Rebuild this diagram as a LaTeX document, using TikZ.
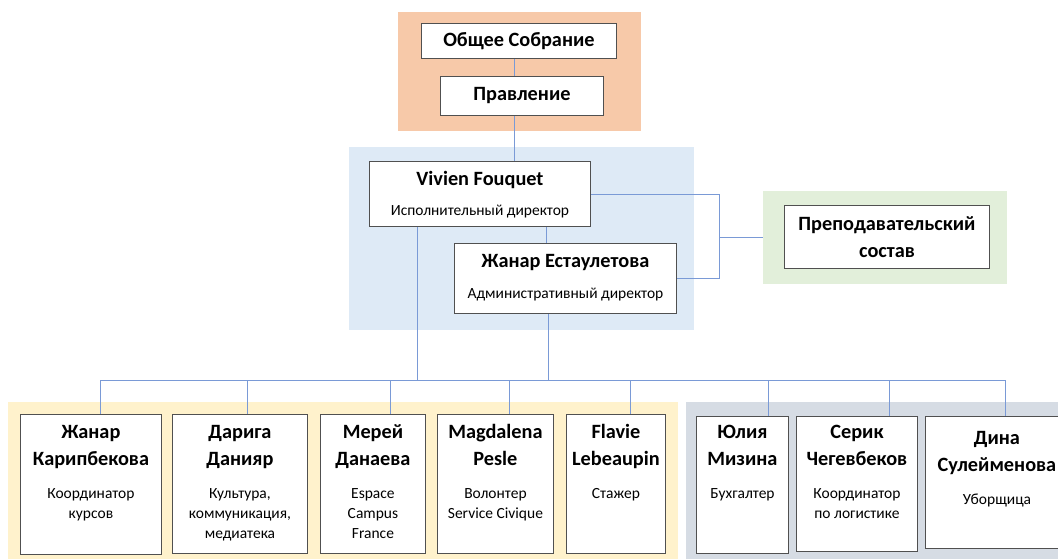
\documentclass[tikz,border=0pt]{standalone}
\usepackage{fontspec}
\setmainfont{Carlito}
\definecolor{orangebg}{HTML}{F7C9A9}
\definecolor{bluebg}{HTML}{DEEAF6}
\definecolor{greenbg}{HTML}{E2EFDA}
\definecolor{yellowbg}{HTML}{FFF2CC}
\definecolor{graybg}{HTML}{D6DCE4}
\definecolor{linkc}{HTML}{7A9AD6}
\definecolor{boxline}{HTML}{505050}
\newcommand{\tfont}{\fontsize{20.3}{27}\selectfont\bfseries}
\newcommand{\sfont}{\fontsize{15.5}{20}\selectfont}
% width, height, top space, gap, name, subtitle
\newcommand{\orgcell}[6]{\parbox[c][#2][t]{#1}{\centering\vspace*{#3}%
{\tfont\strut #5\par}\vspace{#4}{\sfont #6\par}}}
\begin{document}
\begin{tikzpicture}[x=1pt,y=-1pt,
  bgbox/.style={draw=none, inner sep=0pt, anchor=north west},
  box/.style={draw=boxline, fill=white, line width=0.9pt, inner sep=0pt, anchor=north west},
  link/.style={draw=linkc, line width=0.9pt}]
\useasboundingbox (0,0) rectangle (1058,558);
\clip (0,0) rectangle (1058,558);
\fill[white] (0,0) rectangle (1058,558);
% backgrounds
\node[bgbox, fill=orangebg, minimum width=243pt, minimum height=119pt] (obg) at (398,12) {};
\node[bgbox, fill=bluebg, minimum width=345pt, minimum height=183pt] (bbg) at (349,147) {};
\node[bgbox, fill=greenbg, minimum width=244pt, minimum height=93pt] (gbg) at (763,191) {};
\node[bgbox, fill=yellowbg, minimum width=670pt, minimum height=160pt] (ybg) at (8,402) {};
\node[bgbox, fill=graybg, minimum width=380pt, minimum height=160pt] (sbg) at (686,402) {};
% boxes
\node[box, minimum width=195pt, minimum height=35pt, font=\tfont] (os) at (421,23) {Общее Собрание};
\node[box, minimum width=163pt, minimum height=39pt, font=\tfont] (pr) at (440,76) {Правление};
\node[box] (vf) at (369,161) {\orgcell{221pt}{65pt}{5pt}{10pt}{Vivien Fouquet}{Исполнительный директор}};
\node[box] (ze) at (454,243) {\orgcell{222pt}{70pt}{5pt}{11pt}{Жанар Естаулетова}{Административный директор}};
\node[box, minimum width=205pt, minimum height=63pt, align=center, font=\tfont] (ps) at (784,205) {Преподавательский\\состав};
\node[box] (kar) at (20,414) {\orgcell{141pt}{140pt}{5pt}{13pt}{Жанар\\Карипбекова}{Координатор\\курсов}};
\node[box] (dar) at (172,414) {\orgcell{135pt}{139pt}{5pt}{13pt}{Дарига\\Данияр}{Культура,\\коммуникация,\\медиатека}};
\node[box] (mer) at (320,414) {\orgcell{105pt}{139pt}{5pt}{13pt}{Мерей\\Данаева}{Espace\\Campus\\France}};
\node[box] (mag) at (437,414) {\orgcell{116pt}{139pt}{5pt}{13pt}{Magdalena\\Pesle}{Волонтер\\Service Civique}};
\node[box] (fla) at (566,414) {\orgcell{99pt}{139pt}{5pt}{13pt}{Flavie\\Lebeaupin}{Стажер}};
\node[box] (yul) at (696,416) {\orgcell{92pt}{137pt}{3pt}{13pt}{Юлия\\Мизина}{Бухгалтер}};
\node[box] (ser) at (796,416) {\orgcell{121pt}{135pt}{3pt}{13pt}{Серик\\Чегевбеков}{Координатор\\по логистике}};
\node[box] (din) at (925,416) {\orgcell{143pt}{132pt}{9pt}{13pt}{Дина\\Сулейменова}{Уборщица}};
% connector coordinates
\coordinate (c1) at (514,0);
\coordinate (c2) at (546,0);
\coordinate (c3) at (417,380);
\coordinate (c4) at (548,380);
\coordinate (c5) at (719,0);
\coordinate (d1) at (100,380);
\coordinate (d2) at (247,380);
\coordinate (d3) at (390,380);
\coordinate (d4) at (509,380);
\coordinate (d5) at (630,380);
\coordinate (d6) at (768,380);
\coordinate (d7) at (889,380);
\coordinate (d8) at (1005,380);
% connectors
\draw[link] (os.south -| c1) -- (pr.north -| c1);
\draw[link] (pr.south -| c1) -- (vf.north -| c1);
\draw[link] (vf.south -| c2) -- (ze.north -| c2);
\draw[link] (vf.south -| c3) -- (c3);
\draw[link] (ze.south -| c4) -- (c4);
\draw[link] (vf.east) -| (ze.east -| c5) -- (ze.east);
\draw[link] (gbg.west -| c5) -- (gbg.west);
\draw[link] (d1) -- (d8);
\draw[link] (kar.north -| d1) -- (d1);
\draw[link] (dar.north -| d2) -- (d2);
\draw[link] (mer.north -| d3) -- (d3);
\draw[link] (mag.north -| d4) -- (d4);
\draw[link] (fla.north -| d5) -- (d5);
\draw[link] (yul.north -| d6) -- (d6);
\draw[link] (ser.north -| d7) -- (d7);
\draw[link] (din.north -| d8) -- (d8);
\end{tikzpicture}
\end{document}
